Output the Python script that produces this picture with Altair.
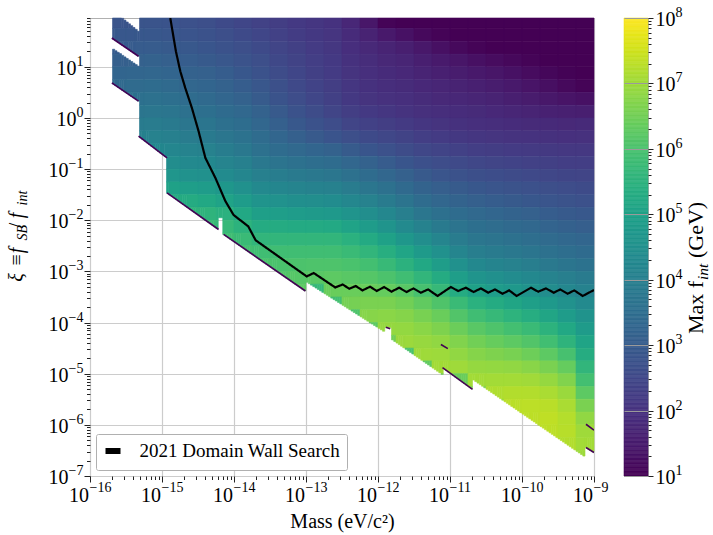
import altair as alt
import numpy as np
import pandas as pd

FONT = "Liberation Serif"

# ---------------------------------------------------------------------------
# log10(max f_int / GeV) on quarter-decade cells.
# One list per mass column (log10 m from -16 to -9, 0.25 wide), each listed
# from the top row (log10 xi in [1.75, 2.0]) downwards.
# ---------------------------------------------------------------------------
col_00 = []
col_01 = [2.8, 2.9, 3.0, 3.1, 3.25, 3.4, 3.55]
col_02 = [2.8, 2.9, 3.0, 3.12, 3.27, 3.42, 3.57, 3.72, 3.87, 4.0]
col_03 = [2.8, 2.9, 3.0, 3.15, 3.3, 3.45, 3.6, 3.75, 3.9, 4.05, 4.25]
col_04 = [2.78, 2.87, 2.97, 3.1, 3.25, 3.4, 3.55, 3.7, 3.85, 4.0, 4.2, 4.4, 4.65, 5.0, 5.3]
col_05 = [2.72, 2.82, 2.92, 3.02, 3.17, 3.3, 3.45, 3.6, 3.75, 3.9, 4.1, 4.3, 4.55, 4.9, 5.3, 5.55]
col_06 = [2.65, 2.75, 2.85, 2.97, 3.12, 3.25, 3.4, 3.55, 3.7, 3.85, 4.05, 4.25, 4.5, 4.85, 5.2,
          5.55, 5.75]
col_07 = [2.55, 2.65, 2.75, 2.88, 3.03, 3.15, 3.28, 3.43, 3.58, 3.73, 3.92, 4.12, 4.35, 4.7, 5.05,
          5.45, 5.7, 5.85]
col_08 = [2.45, 2.55, 2.65, 2.77, 2.9, 3.03, 3.15, 3.33, 3.48, 3.63, 3.8, 4.0, 4.2, 4.5, 4.85,
          5.2, 5.5, 5.75, 5.9]
col_09 = [2.35, 2.45, 2.55, 2.65, 2.75, 2.88, 2.98, 3.15, 3.3, 3.45, 3.6, 3.8, 4.0, 4.28, 4.6,
          4.95, 5.3, 5.6, 5.85, 6.0]
col_10 = [2.25, 2.33, 2.42, 2.5, 2.58, 2.68, 2.78, 2.95, 3.1, 3.27, 3.45, 3.68, 3.92, 4.2, 4.52,
          4.9, 5.3, 5.6, 5.85, 6.0, 6.1]
col_11 = [2.15, 2.22, 2.3, 2.37, 2.44, 2.52, 2.6, 2.75, 2.92, 3.1, 3.35, 3.6, 3.85, 4.13, 4.45,
          4.85, 5.27, 5.6, 5.85, 6.02, 6.15, 6.25]
col_12 = [2.08, 2.13, 2.2, 2.26, 2.31, 2.38, 2.45, 2.58, 2.75, 2.95, 3.25, 3.52, 3.8, 4.08, 4.42,
          4.8, 5.25, 5.6, 5.85, 6.05, 6.2, 5.7]
col_13 = [2.0, 2.05, 2.1, 2.15, 2.2, 2.25, 2.3, 2.42, 2.6, 2.82, 3.15, 3.45, 3.75, 4.03, 4.38,
          4.77, 5.22, 5.6, 5.85, 6.05, 6.25, 6.4, 5.9]
col_14 = [1.75, 1.85, 1.92, 1.98, 2.03, 2.08, 2.13, 2.25, 2.42, 2.65, 2.98, 3.3, 3.6, 3.9, 4.22,
          4.6, 5.05, 5.45, 5.75, 6.0, 6.2, 6.4, 6.55, 6.05]
col_15 = [1.4, 1.65, 1.8, 1.88, 1.93, 1.98, 2.03, 2.15, 2.32, 2.55, 2.85, 3.15, 3.45, 3.75, 4.05,
          4.42, 4.85, 5.25, 5.6, 5.9, 6.15, 6.4, 6.6, 6.75, 6.25]
col_16 = [1.05, 1.45, 1.68, 1.77, 1.84, 1.9, 1.97, 2.08, 2.25, 2.47, 2.72, 3.0, 3.3, 3.6, 3.88,
          4.22, 4.6, 5.0, 5.38, 5.72, 6.03, 6.35, 6.6, 6.78, 6.9, 6.5]
col_17 = [1.0, 1.3, 1.58, 1.7, 1.78, 1.86, 1.93, 2.02, 2.17, 2.37, 2.58, 2.85, 3.12, 3.4, 3.67,
          3.98, 4.32, 4.7, 5.1, 5.48, 5.85, 6.2, 6.5, 6.72, 6.88, 6.97, 6.0]
col_18 = [1.0, 1.15, 1.42, 1.58, 1.68, 1.78, 1.86, 1.95, 2.08, 2.27, 2.47, 2.7, 2.95, 3.2, 3.45,
          3.75, 4.07, 4.42, 4.8, 5.2, 5.6, 5.95, 6.3, 6.58, 6.78, 6.92, 7.0, 6.3]
col_19 = [1.0, 1.05, 1.28, 1.47, 1.6, 1.72, 1.8, 1.9, 2.03, 2.2, 2.4, 2.6, 2.83, 3.07, 3.3,
          3.58, 3.85, 4.15, 4.5, 4.88, 5.3, 5.7, 6.07, 6.4, 6.65, 6.85, 6.98, 7.05, 6.5]
col_20 = [1.0, 1.0, 1.15, 1.38, 1.52, 1.65, 1.75, 1.87, 1.98, 2.13, 2.33, 2.53, 2.75, 2.98, 3.2,
          3.45, 3.68, 3.9, 4.15, 4.5, 4.9, 5.3, 5.75, 6.1, 6.42, 6.68, 6.85, 7.0, 6.4]
col_21 = [1.0, 1.0, 1.05, 1.28, 1.45, 1.6, 1.7, 1.83, 1.93, 2.08, 2.27, 2.47, 2.67, 2.9, 3.1,
          3.35, 3.55, 3.75, 3.95, 4.25, 4.6, 5.0, 5.45, 5.85, 6.2, 6.5, 6.72, 6.9, 7.05, 6.6]
col_22 = [1.0, 1.0, 1.0, 1.2, 1.38, 1.53, 1.65, 1.78, 1.9, 2.05, 2.23, 2.42, 2.62, 2.83, 3.03,
          3.27, 3.47, 3.67, 3.87, 4.13, 4.47, 4.85, 5.3, 5.7, 6.05, 6.37, 6.65, 6.88, 7.05, 7.17,
          6.9]
col_23 = [1.0, 1.0, 1.0, 1.12, 1.3, 1.45, 1.58, 1.73, 1.87, 2.02, 2.2, 2.38, 2.57, 2.77, 2.97,
          3.2, 3.4, 3.6, 3.8, 4.05, 4.37, 4.72, 5.12, 5.52, 5.9, 6.25, 6.58, 6.85, 7.05, 7.2,
          7.28, 7.25]
col_24 = [1.0, 1.0, 1.0, 1.05, 1.2, 1.35, 1.5, 1.67, 1.83, 2.0, 2.17, 2.34, 2.52, 2.71, 2.9,
          3.12, 3.32, 3.52, 3.72, 3.95, 4.25, 4.58, 4.95, 5.35, 5.75, 6.1, 6.45, 6.77, 7.02, 7.2,
          7.3, 7.3, 7.2]
col_25 = [1.0, 1.0, 1.0, 1.0, 1.1, 1.25, 1.42, 1.62, 1.82, 1.98, 2.14, 2.3, 2.47, 2.65, 2.83,
          3.03, 3.22, 3.42, 3.6, 3.83, 4.1, 4.4, 4.75, 5.12, 5.5, 5.87, 6.25, 6.6, 6.9, 7.12,
          7.27, 7.33, 7.3, 7.15]
col_26 = [1.0, 1.0, 1.0, 1.0, 1.03, 1.15, 1.35, 1.6, 1.8, 1.96, 2.12, 2.27, 2.43, 2.6, 2.77,
          2.97, 3.13, 3.33, 3.5, 3.72, 3.97, 4.22, 4.53, 4.85, 5.2, 5.55, 5.95, 6.35, 6.68, 6.95,
          7.12, 7.22, 7.25, 7.2, 7.05]
col_27 = [1.0, 1.0, 1.0, 1.0, 1.0, 1.05, 1.3, 1.58, 1.82, 1.97, 2.12, 2.27, 2.42, 2.57, 2.72,
          2.92, 3.07, 3.27, 3.43, 3.62, 3.87, 4.07, 4.32, 4.57, 4.82, 5.08, 5.33, 5.6, 5.9, 6.25,
          6.6, 6.85, 7.0, 7.05, 6.98]

columns = [col_00, col_01, col_02, col_03, col_04, col_05, col_06, col_07, col_08, col_09,
           col_10, col_11, col_12, col_13, col_14, col_15, col_16, col_17, col_18, col_19,
           col_20, col_21, col_22, col_23, col_24, col_25, col_26, col_27]

MASS_LO = -16.0
XI_LO, XI_TOP = -7.0, 1.955
CELL = 0.25
SUB = 8

# lower edge of the computed region (log10 mass, log10 xi); repeated masses are steps
lower_mass = [-15.697, -15.326, -15.326, -14.930, -14.930, -14.214, -14.214, -14.144,
              -14.144, -13.008, -13.008, -11.892, -11.892, -11.822, -11.822, -11.104,
              -11.104, -10.687, -10.687, -9.111, -9.111, -9.000]
lower_xi = [0.686, 0.328, -0.355, -0.779, -1.463, -2.180, -1.951, -1.951,
            -2.277, -3.383, -3.191, -4.197, -4.100, -4.100, -4.315, -5.018,
            -4.881, -5.305, -5.109, -6.639, -6.443, -6.541]
# empty band and empty corner in the lightest-mass strip
band_mass = [-15.697, -15.326]
band_upper_xi = [1.564, 1.207]
band_lower_xi = [1.369, 1.012]
corner_mass = [-15.552, -15.326]
corner_xi = [1.955, 1.695]

# thin low-value rims along parts of the edge, and small low-value specks
rim_mass = [[-15.697, -15.326], [-15.697, -15.326], [-15.326, -14.930], [-14.930, -14.214],
            [-14.144, -13.008], [-11.104, -10.687], [-9.111, -9.000], [-11.126, -11.030],
            [-9.111, -9.000], [-11.890, -11.830]]
rim_xi = [[0.686, 0.328], [1.564, 1.207], [-0.355, -0.779], [-1.463, -2.180],
          [-2.277, -3.383], [-4.881, -5.305], [-6.443, -6.541], [-4.430, -4.510],
          [-5.988, -6.105], [-4.090, -4.120]]

# 2021 Domain Wall Search exclusion curve
dw_log_mass = [-14.885, -14.807, -14.746, -14.677, -14.585, -14.492, -14.398, -14.259, -14.120,
               -14.005, -13.803, -13.699, -12.990, -12.893, -12.594, -12.490, -12.399, -12.309,
               -12.216, -12.110, -12.017, -11.915, -11.813, -11.707, -11.604, -11.507, -11.405,
               -11.304, -11.173, -10.988, -10.887, -10.780, -10.673, -10.571, -10.470, -10.376,
               -10.269, -10.178, -10.075, -9.876, -9.775, -9.667, -9.560, -9.469, -9.366,
               -9.274, -9.157, -9.000]
dw_log_xi = [1.955, 1.305, 0.914, 0.588, 0.197, -0.258, -0.779, -1.170, -1.625, -1.898, -2.117,
             -2.391, -3.098, -3.031, -3.313, -3.256, -3.338, -3.285, -3.371, -3.299, -3.383,
             -3.305, -3.396, -3.318, -3.402, -3.332, -3.416, -3.352, -3.480, -3.305, -3.383,
             -3.318, -3.402, -3.332, -3.416, -3.352, -3.436, -3.371, -3.480, -3.318, -3.396,
             -3.332, -3.416, -3.352, -3.436, -3.371, -3.480, -3.363]
DW_LABEL = "2021 Domain Wall Search"

# decades labelled on each axis
x_exps = list(range(-16, -8))
y_exps = list(range(-7, 2))
cb_exps = list(range(1, 9))


def on_polyline(ms, xs, m):
    for k in range(len(ms) - 1):
        if ms[k] < ms[k + 1] and ms[k] <= m < ms[k + 1]:
            t = (m - ms[k]) / (ms[k + 1] - ms[k])
            return xs[k] + t * (xs[k + 1] - xs[k])
    return None


def spans(m):
    lo = on_polyline(lower_mass, lower_xi, m)
    if lo is None:
        return []
    if m < band_mass[1]:
        top = XI_TOP if m < corner_mass[0] else on_polyline(corner_mass, corner_xi, m)
        return [(lo, on_polyline(band_mass, band_lower_xi, m)),
                (on_polyline(band_mass, band_upper_xi, m), top)]
    return [(lo, XI_TOP)]


cells = []
for i, col in enumerate(columns):
    m_lo = MASS_LO + i * CELL
    edges = [m_lo + k * CELL / SUB for k in range(SUB + 1)]
    sub_spans = [spans(0.5 * (edges[k] + edges[k + 1])) for k in range(SUB)]
    for j, v in enumerate(col):
        r_hi = min(2.0 - j * CELL, XI_TOP)
        r_lo = 2.0 - (j + 1) * CELL
        open_pieces = {}
        pieces = []
        for k in range(SUB):
            for lo, hi in sub_spans[k]:
                y0, y1 = max(lo, r_lo), min(hi, r_hi)
                if y1 <= y0:
                    continue
                key = (round(y0, 9), round(y1, 9))
                p = open_pieces.get(key)
                if p is not None and abs(p[1] - edges[k]) < 1e-12:
                    p[1] = edges[k + 1]
                else:
                    p = [edges[k], edges[k + 1], y0, y1]
                    open_pieces[key] = p
                    pieces.append(p)
        for a, b, y0, y1 in pieces:
            cells.append({"m0": 10 ** a, "m1": 10 ** b, "x0": 10 ** y0, "x1": 10 ** y1,
                          "f": 10 ** v})
cells = pd.DataFrame(cells)

rims = pd.DataFrame([
    {"seg": s, "m": 10 ** mm, "xi": 10 ** xx}
    for s, (ms, xs) in enumerate(zip(rim_mass, rim_xi)) for mm, xx in zip(ms, xs)
])
dw = pd.DataFrame({"m": [10 ** v for v in dw_log_mass], "xi": [10 ** v for v in dw_log_xi],
                   "name": DW_LABEL})


def exp_table(exps):
    return pd.DataFrame({"val": [10.0 ** e for e in exps],
                         "txt": [str(e).replace("-", "\u2212") for e in exps]})


# ---------------------------------------------------------------------------
# tick labels: the axis draws the base "10", a text layer adds the raised exponent
MAJOR = "abs(log(datum.value)/LN10 - round(log(datum.value)/LN10)) < 0.01"
BASE_SIZE, EXP_SIZE = 20, 14
W, H = 504, 458


def log_ticks(e_lo, e_hi, top):
    return [k * 10.0 ** e for e in range(e_lo, e_hi + 1) for k in range(1, 10)
            if k * 10.0 ** e <= top * 1.0001]


def base_axis(values, **kw):
    return alt.Axis(values=values, labelExpr=f"{MAJOR} ? '10' : ''",
                    labelFontSize=BASE_SIZE, labelOverlap=False, labelFlush=False,
                    labelBound=False, domain=False,
                    tickSize={"condition": {"test": MAJOR, "value": 6}, "value": 3.5},
                    gridOpacity={"condition": {"test": MAJOR, "value": 1}, "value": 0}, **kw)


x_scale = alt.Scale(type="log", domain=[1e-16, 1e-9], nice=False)
y_scale = alt.Scale(type="log", domain=[1e-7, 10 ** XI_TOP], nice=False)
color_scale = alt.Scale(type="log", domain=[1e1, 1e8], scheme="viridis", clamp=True)

x_axis = base_axis(log_ticks(-16, -10, 1) + [1e-9], title="Mass (eV/c²)", titleFontSize=20,
                   titlePadding=6, labelAlign="right", labelBaseline="top", labelPadding=3,
                   labelOffset=-1.5)
y_axis = base_axis(log_ticks(-7, 1, 10 ** XI_TOP), title=None, labelAlign="right",
                   labelBaseline="middle", labelOffset=1.5,
                   labelPadding={"condition": {"test": "datum.value > 0.5", "value": 8},
                                 "value": 16})

heat = alt.Chart(cells).mark_rect(strokeWidth=0.6).encode(
    x=alt.X("m0:Q", scale=x_scale, axis=x_axis),
    x2="m1:Q",
    y=alt.Y("x0:Q", scale=y_scale, axis=y_axis),
    y2="x1:Q",
    color=alt.Color("f:Q", scale=color_scale, legend=None),
    stroke=alt.Stroke("f:Q", scale=color_scale, legend=None),
)

rim = alt.Chart(rims).mark_line(color="#440154", strokeWidth=1.6, clip=True).encode(
    x=alt.X("m:Q", scale=x_scale), y=alt.Y("xi:Q", scale=y_scale), detail="seg:N"
)

dw_line = alt.Chart(dw).mark_line(color="black", strokeWidth=2.2, clip=True).encode(
    x=alt.X("m:Q", scale=x_scale),
    y=alt.Y("xi:Q", scale=y_scale),
    strokeDash=alt.StrokeDash(
        "name:N", scale=alt.Scale(domain=[DW_LABEL], range=[[1, 0]]),
        legend=alt.Legend(title=None, orient="bottom-left", offset=6, padding=6.5,
                          labelFont=FONT, labelFontSize=19, labelColor="black",
                          labelLimit=400, labelOffset=16, symbolType="stroke",
                          symbolSize=225, symbolStrokeWidth=6, symbolStrokeColor="black",
                          strokeColor="#b0b0b0", fillColor="white", cornerRadius=2),
    ),
)

x_exp_text = alt.Chart(exp_table(x_exps)).mark_text(
    align="left", baseline="top", dx=-0.5, font=FONT, fontSize=EXP_SIZE, color="black"
).encode(x=alt.X("val:Q", scale=x_scale), y=alt.value(H + 5), text="txt:N")

y_exp_text = alt.Chart(exp_table(y_exps)).mark_text(
    align="right", baseline="alphabetic", dy=-1, font=FONT, fontSize=EXP_SIZE, color="black"
).encode(x=alt.value(-6.5), y=alt.Y("val:Q", scale=y_scale), text="txt:N")


def piece(text, x, y, size, italic=False):
    return alt.Chart(alt.Data(values=[{"t": text}])).mark_text(
        angle=270, align="left", baseline="alphabetic", font=FONT, fontSize=size,
        fontStyle="italic" if italic else "normal", color="black",
    ).encode(text="t:N", x=alt.value(x), y=alt.value(y))


# y title:  xi = f_SB / f_int
y_title = [
    piece("ξ", -67.5, 263.7, 20, True),
    piece("≡", -67.5, 247.5, 20),
    piece("f", -67.5, 235.3, 20, True),
    piece("SB", -63.0, 222.5, 14, True),
    piece("/", -67.5, 210.3, 20),
    piece("f", -67.5, 200.3, 20, True),
    piece("int", -63.0, 187.5, 14, True),
]

main = alt.layer(heat, rim, dw_line, x_exp_text, y_exp_text, *y_title).properties(
    width=W, height=H
)

# colour bar
cb_scale = alt.Scale(type="log", domain=[1e1, 1e8], nice=False)
cb_axis = alt.Axis(orient="right", values=log_ticks(1, 7, 1e8) + [1e8],
                   labelExpr=f"{MAJOR} ? '10' : ''", labelFontSize=BASE_SIZE,
                   labelOverlap=False, labelFlush=False, labelBound=False, domain=False,
                   title=None, grid=True, gridColor="#9a9a9a", gridWidth=1, zindex=1,
                   labelPadding=2, labelAlign="left", labelBaseline="middle", labelOffset=1.5,
                   tickSize={"condition": {"test": MAJOR, "value": 5}, "value": 3},
                   gridOpacity={"condition": {"test": MAJOR, "value": 1}, "value": 0})

cb_rect = alt.Chart(alt.sequence(start=1.0, stop=8.0, step=0.02, as_="lv")).transform_calculate(
    v0="pow(10, datum.lv)", v1="pow(10, datum.lv + 0.02)"
).mark_rect(strokeWidth=0.6).encode(
    x=alt.value(0), x2=alt.value(24),
    y=alt.Y("v0:Q", scale=cb_scale, axis=cb_axis),
    y2="v1:Q",
    color=alt.Color("v0:Q", scale=color_scale, legend=None),
    stroke=alt.Stroke("v0:Q", scale=color_scale, legend=None),
)

cb_exp_text = alt.Chart(exp_table(cb_exps)).mark_text(
    align="left", baseline="alphabetic", dy=-1, font=FONT, fontSize=EXP_SIZE, color="black"
).encode(x=alt.value(24 + 5 + 2 + 20.5), y=alt.Y("val:Q", scale=cb_scale), text="txt:N")

cb_title = [
    piece("Max f", 79, 316.0, 22),
    piece("int", 83.5, 262.0, 15.5, True),
    piece("(GeV)", 79, 240.0, 22),
]
cbar = alt.layer(cb_rect, cb_exp_text, *cb_title).properties(width=24, height=H)

chart = alt.hconcat(main, cbar, spacing=30, bounds="flush").properties(
    padding={"left": 6, "top": 5, "right": 0, "bottom": 1}
).configure(font=FONT).configure_view(
    stroke="#b0b0b0", strokeWidth=1
).configure_axis(
    labelFont=FONT, titleFont=FONT, labelColor="black", titleColor="black",
    titleFontWeight="normal", tickColor="#222222", tickWidth=1,
    gridColor="#cccccc", gridWidth=1.2,
)

chart.save("out.html", embed_options={"renderer": "svg", "actions": False})
